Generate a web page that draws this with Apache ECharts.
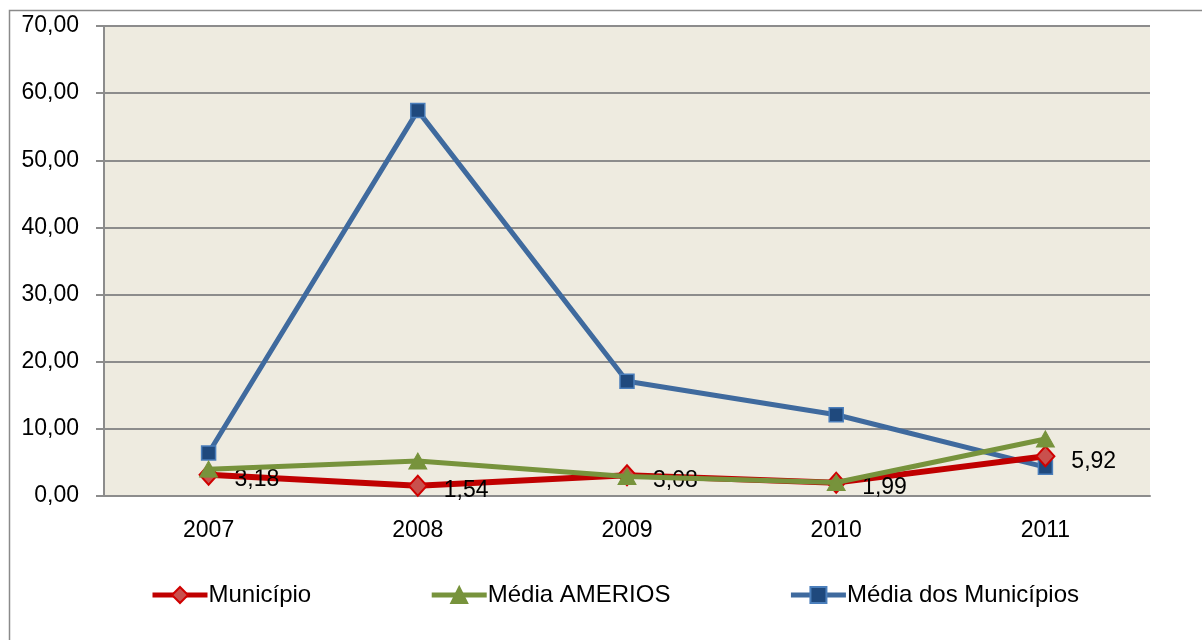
<!DOCTYPE html>
<html><head><meta charset="utf-8">
<script src="https://cdn.jsdelivr.net/npm/echarts@6/dist/echarts.min.js"></script>
<style>html,body{margin:0;padding:0;background:#fff}#c{width:1202px;height:640px}</style>
</head><body><div id="c"></div>
<script>
const categories = ['2007','2008','2009','2010','2011'];
const municipio = [3.18, 1.54, 3.08, 1.99, 5.92];
const mediaAmerios = [4.0, 5.2, 2.9, 2.0, 8.5];
const mediaMunicipios = [6.4, 57.4, 17.1, 12.1, 4.3];
const yTicks = [0,10,20,30,40,50,60,70];
const seriesNames = ['Município','Média AMERIOS','Média dos Municípios'];

const fmt = v => Number(v).toFixed(2).replace('.', ',');
const FONT = 'Liberation Sans';
const chart = echarts.init(document.getElementById('c'));
chart.setOption({
  animation: false,
  textStyle: {fontFamily: FONT},
  graphic: [{type:'rect', shape:{x:9.5,y:10.5,width:1220,height:660}, style:{fill:'none', stroke:'#8a8a8a', lineWidth:1.5}, z:-1}],
  grid: {left:104, right:52, top:26, bottom:144, show:true, backgroundColor:'#EEEBE0', borderWidth:0},
  xAxis: {type:'category', data:categories, boundaryGap:true,
    axisLine:{lineStyle:{color:'#8c8c8c', width:2}}, axisTick:{show:false},
    axisLabel:{fontSize:23, color:'#000', margin:23, fontFamily:FONT}},
  yAxis: {type:'value', min:yTicks[0], max:yTicks[yTicks.length-1], interval:10,
    axisLine:{show:true, lineStyle:{color:'#8c8c8c', width:2}},
    axisTick:{show:true, length:8, lineStyle:{color:'#8c8c8c', width:2}},
    splitLine:{lineStyle:{color:'#8c8c8c', width:2}},
    axisLabel:{fontSize:23, color:'#000', margin:25, fontFamily:FONT, formatter:fmt}},
  legend: {left:145, top:578, itemWidth:55, itemHeight:20, itemGap:118,
    textStyle:{fontSize:24, color:'#000', fontFamily:FONT, padding:[0,0,0,-4]},
    data:[
      {name:seriesNames[0], lineStyle:{width:5, color:'#C00000'}},
      {name:seriesNames[1], lineStyle:{width:5, color:'#77933C'}},
      {name:seriesNames[2], lineStyle:{width:5, color:'#3F6A9E'}}
    ]},
  series: [
    {name:seriesNames[0], type:'line', data:municipio, symbol:'diamond', symbolSize:[18,20],
      lineStyle:{color:'#C00000', width:6}, itemStyle:{color:'#C9504D', borderColor:'#D00000', borderWidth:2},
      label:{show:true, position:'right', distance:16, offset:[0,5], fontSize:23, color:'#000', fontFamily:FONT, formatter:p=>fmt(p.value)}, z:3},
    {name:seriesNames[1], type:'line', data:mediaAmerios, symbol:'triangle', symbolSize:[18,16],
      lineStyle:{color:'#77933C', width:5}, itemStyle:{color:'#77933C', borderColor:'#77933C', borderWidth:1}, z:4},
    {name:seriesNames[2], type:'line', data:mediaMunicipios, symbol:'rect', symbolSize:14,
      lineStyle:{color:'#3F6A9E', width:5}, itemStyle:{color:'#1F497D', borderColor:'#4A7EBB', borderWidth:1.5}, z:2}
  ]
});
</script></body></html>
